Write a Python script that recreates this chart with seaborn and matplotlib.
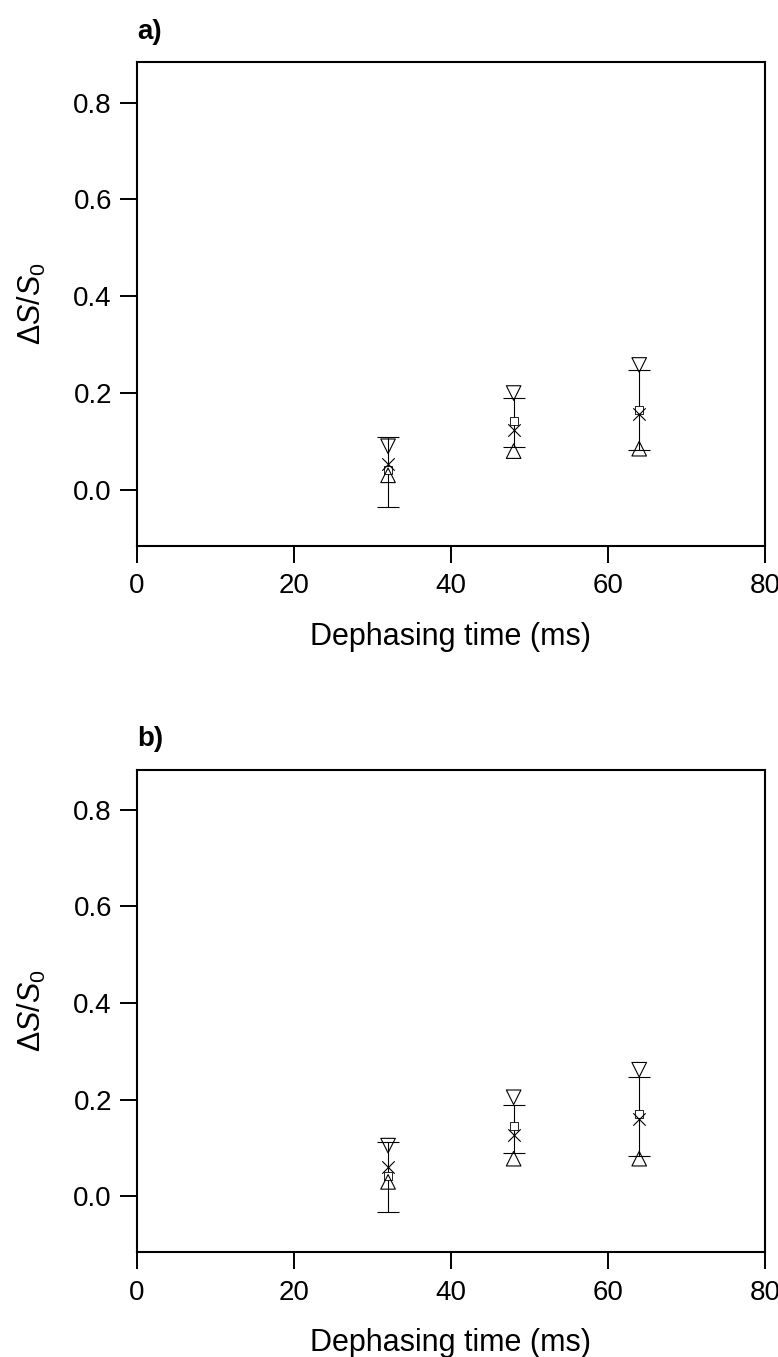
import numpy as np
import pandas as pd
import matplotlib
matplotlib.use("Agg")
import matplotlib.pyplot as plt
import seaborn as sns

# dephasing times (ms)
times = [32, 48, 64]

# panel a)
a_up = [0.030, 0.080, 0.085]      # open up-triangles
a_down = [0.090, 0.200, 0.258]    # open down-triangles
a_cross = [0.054, 0.124, 0.157]   # crosses
a_sq = [0.040, 0.142, 0.165]      # small open squares
a_lo = [-0.035, 0.089, 0.083]     # error bar lower ends
a_hi = [0.110, 0.190, 0.247]      # error bar upper ends

# panel b)
b_up = [0.030, 0.078, 0.078]
b_down = [0.105, 0.205, 0.262]
b_cross = [0.060, 0.128, 0.160]
b_sq = [0.043, 0.145, 0.170]
b_lo = [-0.032, 0.089, 0.084]
b_hi = [0.112, 0.190, 0.248]

sns.set_theme(style="ticks")
plt.rcParams['font.family'] = ['Liberation Sans', 'DejaVu Sans']
plt.rcParams['mathtext.fontset'] = 'custom'
plt.rcParams['mathtext.rm'] = 'Liberation Sans'
plt.rcParams['mathtext.it'] = 'Liberation Sans:italic'
plt.rcParams['text.color'] = 'black'
plt.rcParams['axes.labelcolor'] = 'black'

fig = plt.figure(figsize=(7.78, 13.57), dpi=100)
ax_a = fig.add_axes([0.176, 0.598, 0.807, 0.356])
ax_b = fig.add_axes([0.176, 0.0774, 0.807, 0.3555])


def draw_panel(ax, up, down, cross, sq, lo, hi, tag):
    df = pd.DataFrame({'t': times, 'up': up, 'down': down, 'cross': cross, 'sq': sq})
    sq_arr = np.array(sq)
    yerr = [sq_arr - np.array(lo), np.array(hi) - sq_arr]
    ax.errorbar(times, sq, yerr=yerr, fmt='none', ecolor='black', elinewidth=0.8,
                capsize=8, capthick=0.8, zorder=2)
    sns.scatterplot(data=df, x='t', y='sq', marker='s', s=30, facecolor='white',
                    edgecolor='black', linewidth=0.6, ax=ax, zorder=3)
    sns.scatterplot(data=df, x='t', y='up', marker='^', s=110, facecolor='none',
                    edgecolor='black', linewidth=0.8, ax=ax, zorder=4)
    sns.scatterplot(data=df, x='t', y='down', marker='v', s=110, facecolor='none',
                    edgecolor='black', linewidth=0.8, ax=ax, zorder=4)
    sns.scatterplot(data=df, x='t', y='cross', marker='x', s=80, color='black',
                    linewidth=0.8, ax=ax, zorder=5)

    ax.set_xlim(0, 80)
    ax.set_ylim(-0.115, 0.883)
    ax.set_xticks([0, 20, 40, 60, 80])
    ax.set_yticks([0.0, 0.2, 0.4, 0.6, 0.8])
    ax.set_yticklabels(['0.0', '0.2', '0.4', '0.6', '0.8'])
    ax.tick_params(direction='out', length=12, width=1.4, labelsize=20, color='black',
                   labelcolor='black')
    ax.tick_params(axis='x', pad=8)
    ax.tick_params(axis='y', pad=6)
    for sp in ax.spines.values():
        sp.set_visible(True)
        sp.set_linewidth(1.5)
        sp.set_color('black')
    ax.set_xlabel('Dephasing time (ms)', fontsize=22, labelpad=16)
    ax.set_ylabel(r'$\Delta S/S_0$', fontsize=22, labelpad=18)
    ax.text(0.0, 1.048, tag, transform=ax.transAxes, fontsize=20, fontweight='bold',
            ha='left', va='baseline')


draw_panel(ax_a, a_up, a_down, a_cross, a_sq, a_lo, a_hi, 'a)')
draw_panel(ax_b, b_up, b_down, b_cross, b_sq, b_lo, b_hi, 'b)')

fig.savefig('out.png', dpi=100)
